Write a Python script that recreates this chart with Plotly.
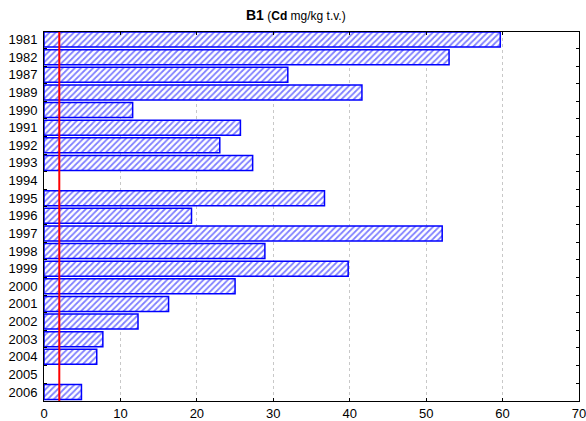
import plotly.graph_objects as go

years = ["1981", "1982", "1987", "1989", "1990", "1991", "1992", "1993", "1994",
         "1995", "1996", "1997", "1998", "1999", "2000", "2001", "2002", "2003",
         "2004", "2005", "2006"]
cd_values = [59.7, 53.0, 31.9, 41.6, 11.6, 25.7, 23.0, 27.3, None,
             36.7, 19.3, 52.1, 28.9, 39.8, 25.0, 16.3, 12.3, 7.7,
             6.9, None, 4.9]
limit_value = 2.0
x_ticks = [0, 10, 20, 30, 40, 50, 60, 70]

fig = go.Figure()
fig.add_trace(go.Bar(
    y=years, x=cd_values, orientation="h",
    marker=dict(
        color="white",
        line=dict(color="#0000FF", width=1.5),
        pattern=dict(shape="/", fgcolor="#0000FF", bgcolor="white", size=4.3, solidity=0.4),
    ),
    width=0.85,
))

fig.add_shape(type="line", xref="x", yref="paper", x0=limit_value, x1=limit_value,
              y0=0, y1=1, line=dict(color="#FF0000", width=2))

fig.add_annotation(
    xref="paper", yref="paper", x=0.471, y=1.045, xanchor="center", yanchor="middle",
    showarrow=False,
    text="<b><span style='font-size:14px'>B1</span></b> <span style='font-size:12px'>(<b>Cd</b> mg/kg t.v.)</span>",
    font=dict(family="Liberation Sans, Arial, sans-serif", size=12, color="black"),
)

fig.update_layout(
    width=586, height=421,
    margin=dict(l=44, r=7, t=32, b=20),
    paper_bgcolor="white", plot_bgcolor="white",
    showlegend=False,
    font=dict(family="Liberation Sans, Arial, sans-serif", size=13, color="black"),
)
fig.update_xaxes(
    range=[0, 70], tickvals=x_ticks, ticktext=[str(t) for t in x_ticks],
    showgrid=True, gridcolor="#C8C8C8", griddash="dot", gridwidth=1,
    showline=True, linecolor="black", linewidth=1, mirror="ticks",
    ticks="inside", ticklen=3, tickcolor="black", zeroline=False,
    tickfont=dict(size=13), automargin=False, ticklabeloverflow="allow",
)
fig.update_yaxes(
    type="category", categoryorder="array", categoryarray=years,
    range=[20.51, -0.43], showgrid=False,
    showline=True, linecolor="black", linewidth=1, mirror="ticks",
    ticks="inside", tickson="boundaries", ticklen=3, tickcolor="black",
    tickfont=dict(size=13), automargin=False, ticklabelstandoff=3,
)

fig.write_html(
    "out.html",
    config={"displayModeBar": False},
    post_script="document.body.style.margin='0';document.body.style.overflow='hidden';",
)
